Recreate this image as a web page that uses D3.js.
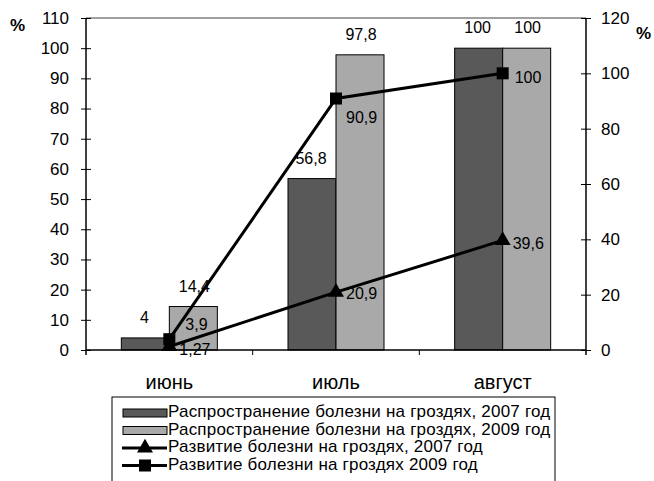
<!DOCTYPE html>
<html>
<head>
<meta charset="utf-8">
<script src="https://cdn.jsdelivr.net/npm/d3@7"></script>
<style>
  body { margin: 0; background: #fff; }
  svg { font-family: Arial, "Liberation Sans", sans-serif; }
</style>
</head>
<body>
<svg id="chart" width="654" height="481"></svg>
<script>
// data
var months = ["июнь", "июль", "август"];
var spread2007 = [4, 56.8, 100];
var spread2009 = [14.4, 97.8, 100];
var devel2007 = [1.27, 20.9, 39.6];
var devel2009 = [3.9, 90.9, 100];
var leftTicks = [0, 10, 20, 30, 40, 50, 60, 70, 80, 90, 100, 110];
var rightTicks = [0, 20, 40, 60, 80, 100, 120];
var legendLabels = [
    "Распространение болезни на гроздях, 2007 год",
    "Распространение болезни на гроздях, 2009 год",
    "Развитие болезни на гроздях, 2007 год",
    "Развитие болезни на гроздях 2009 год"
];

var svg = d3.select("#chart");
var plotL = 86, plotR = 586, plotT = 18, plotB = 350;
var dark = "#595959", light = "#a9a9a9";

var x = d3.scaleBand().domain(months).range([plotL, plotR]);
var barW = 48;
var yL = d3.scaleLinear().domain([0, 110]).range([plotB, plotT]);
var yR = d3.scaleLinear().domain([0, 120]).range([plotB, plotT]);
var cx = function (m) { return x(m) + x.bandwidth() / 2; };
var fmt = function (v) { return String(v).replace(".", ","); };

// frame top line
svg.append("line")
    .attr("x1", plotL).attr("x2", plotR).attr("y1", plotT).attr("y2", plotT)
    .attr("stroke", "#808080").attr("stroke-width", 1.5);

// bars
var bars = svg.append("g");
months.forEach(function (m, i) {
    bars.append("rect")
        .attr("x", cx(m) - barW).attr("y", yL(spread2007[i]))
        .attr("width", barW).attr("height", plotB - yL(spread2007[i]))
        .attr("fill", dark).attr("stroke", "#000").attr("stroke-width", 1);
    bars.append("rect")
        .attr("x", cx(m)).attr("y", yL(spread2009[i]))
        .attr("width", barW).attr("height", plotB - yL(spread2009[i]))
        .attr("fill", light).attr("stroke", "#000").attr("stroke-width", 1);
});

// bar labels
months.forEach(function (m, i) {
    bars.append("text")
        .attr("x", cx(m) - barW / 2 - 1).attr("y", yL(spread2007[i]) - 15)
        .attr("text-anchor", "middle").attr("font-size", 16)
        .text(fmt(spread2007[i]));
    bars.append("text")
        .attr("x", cx(m) + barW / 2 + 1).attr("y", yL(spread2009[i]) - 15)
        .attr("text-anchor", "middle").attr("font-size", 16)
        .text(fmt(spread2009[i]));
});

// axes
var axL = svg.append("g").attr("transform", "translate(" + plotL + ",0)")
    .call(d3.axisLeft(yL).tickValues(leftTicks).tickSize(5).tickPadding(12));
var axR = svg.append("g").attr("transform", "translate(" + plotR + ",0)")
    .call(d3.axisRight(yR).tickValues(rightTicks).tickSize(5).tickPadding(10));
[axL, axR].forEach(function (ax) {
    ax.select(".domain").remove();
    ax.selectAll(".tick line").attr("stroke", "#000");
    ax.selectAll("text").attr("font-size", 17).attr("fill", "#000")
        .attr("font-family", "Arial, 'Liberation Sans', sans-serif");
});
axL.selectAll(".tick line").attr("x1", 5).attr("x2", -5);
axR.selectAll(".tick line").attr("x1", -5).attr("x2", 5);

svg.append("line").attr("x1", plotL).attr("x2", plotL).attr("y1", plotT).attr("y2", plotB + 5)
    .attr("stroke", "#000").attr("stroke-width", 1.5);
svg.append("line").attr("x1", plotR).attr("x2", plotR).attr("y1", plotT).attr("y2", plotB + 5)
    .attr("stroke", "#000").attr("stroke-width", 1.5);
svg.append("line").attr("x1", plotL).attr("x2", plotR).attr("y1", plotB).attr("y2", plotB)
    .attr("stroke", "#000").attr("stroke-width", 1.5);
months.slice(1).forEach(function (m) {
    svg.append("line").attr("x1", x(m)).attr("x2", x(m)).attr("y1", plotB).attr("y2", plotB + 5)
        .attr("stroke", "#000");
});

// category labels
months.forEach(function (m) {
    svg.append("text").attr("x", cx(m)).attr("y", plotB + 39)
        .attr("text-anchor", "middle").attr("font-size", 20).text(m);
});

// % labels
svg.append("text").attr("x", 10).attr("y", 31).attr("font-size", 17)
    .attr("font-weight", "bold").text("%");
svg.append("text").attr("x", 636).attr("y", 39).attr("font-size", 17)
    .attr("font-weight", "bold").text("%");

// lines
var line = d3.line()
    .x(function (d, i) { return cx(months[i]); })
    .y(function (d) { return yR(d); });
svg.append("path").datum(devel2007).attr("d", line)
    .attr("fill", "none").attr("stroke", "#000").attr("stroke-width", 3);
svg.append("path").datum(devel2009).attr("d", line)
    .attr("fill", "none").attr("stroke", "#000").attr("stroke-width", 3);

var tri = d3.symbol().type(d3.symbolTriangle).size(110);
devel2007.forEach(function (v, i) {
    svg.append("path").attr("d", tri)
        .attr("transform", "translate(" + cx(months[i]) + "," + yR(v) + ")");
});
devel2009.forEach(function (v, i) {
    svg.append("rect")
        .attr("x", cx(months[i]) - 6).attr("y", yR(v) - 6)
        .attr("width", 12).attr("height", 12).attr("fill", "#000");
});

// line labels (offsets relative to marker)
var d07off = [[10, 4], [10, 3], [10, 4]];
var d09off = [[16, -13], [10, 20], [12, 5]];
devel2007.forEach(function (v, i) {
    svg.append("text")
        .attr("x", cx(months[i]) + d07off[i][0]).attr("y", yR(v) + d07off[i][1])
        .attr("font-size", 16).attr("dominant-baseline", "middle")
        .text(fmt(v));
});
devel2009.forEach(function (v, i) {
    svg.append("text")
        .attr("x", cx(months[i]) + d09off[i][0]).attr("y", yR(v) + d09off[i][1])
        .attr("font-size", 16).attr("dominant-baseline", "middle")
        .text(fmt(v));
});

// legend
var lg = svg.append("g");
lg.append("rect").attr("x", 112).attr("y", 397).attr("width", 443).attr("height", 90)
    .attr("fill", "#fff").attr("stroke", "#000").attr("stroke-width", 1);
var rowY = [413, 430.5, 448, 465.5];
legendLabels.forEach(function (t, i) {
    var y = rowY[i];
    if (i < 2) {
        lg.append("rect").attr("x", 123).attr("y", y - 4).attr("width", 44).attr("height", 8)
            .attr("fill", i === 0 ? dark : light).attr("stroke", "#000");
    } else {
        lg.append("line").attr("x1", 122).attr("x2", 167).attr("y1", y).attr("y2", y)
            .attr("stroke", "#000").attr("stroke-width", 3);
        if (i === 2) {
            lg.append("path").attr("d", tri).attr("transform", "translate(145," + y + ")");
        } else {
            lg.append("rect").attr("x", 139).attr("y", y - 6).attr("width", 12).attr("height", 12);
        }
    }
    lg.append("text").attr("x", 168).attr("y", y).attr("dominant-baseline", "middle")
        .attr("font-size", 17).attr("letter-spacing", 0.2).text(t);
});
</script>
</body>
</html>
